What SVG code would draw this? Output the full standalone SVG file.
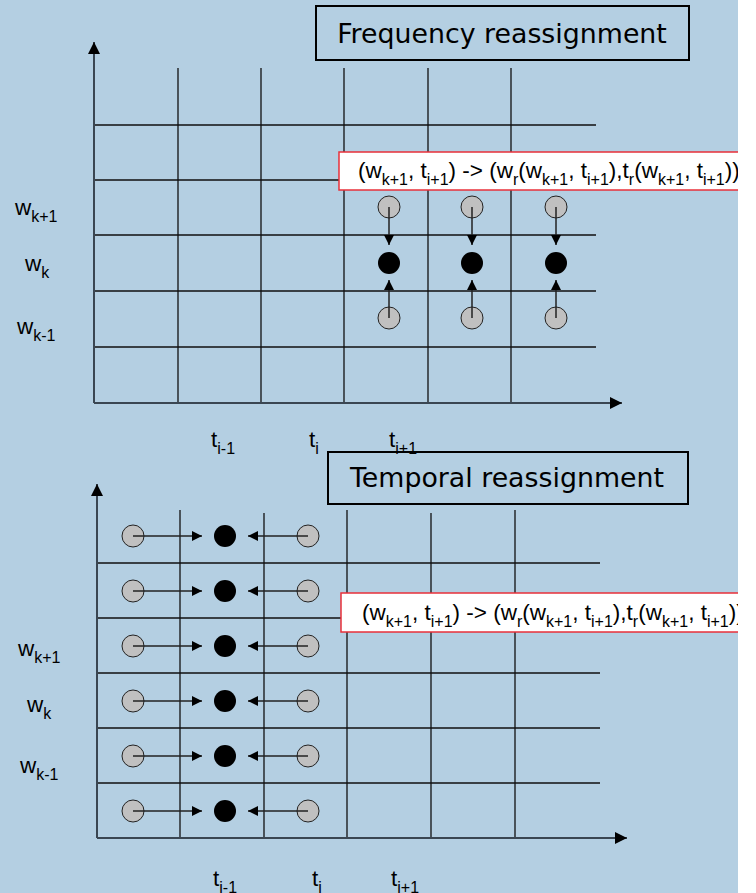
<svg xmlns="http://www.w3.org/2000/svg" width="756" height="893" viewBox="0 0 756 893">
<defs>
<style>
.bg{fill:#b4cfe2}
.ax{stroke:#3a4652;stroke-width:2;fill:none}
.gr{stroke:#111;stroke-width:1.3;fill:none}
.ar{stroke:#222;stroke-width:1.5;fill:none}
.gc{fill:#c0c0c0;stroke:#222;stroke-width:1}
.bc{fill:#000}
.lbl{font-family:"Liberation Sans",Arial,sans-serif;font-size:22.5px;fill:#000}
.ttl{font-family:"DejaVu Sans",Verdana,sans-serif;font-size:26.8px;fill:#000}
.tbox{fill:none;stroke:#000;stroke-width:2}
.rbox{fill:#fff;stroke:#e8303a;stroke-width:1.5}
.sub{font-size:16px}
</style>
<marker id="ah" viewBox="0 0 10 10" refX="10" refY="5" markerWidth="10" markerHeight="10" markerUnits="userSpaceOnUse" orient="auto"><path d="M0,0 L10,5 L0,10 z" fill="#000"/></marker>
<marker id="axh" viewBox="0 0 12 12" refX="12" refY="6" markerWidth="12" markerHeight="12" markerUnits="userSpaceOnUse" orient="auto"><path d="M0,0 L12,6 L0,12 z" fill="#000"/></marker>
</defs>
<rect class="bg" x="0" y="0" width="738" height="893"/>

<!-- Top chart -->
<g id="top-grid">
<path class="gr" d="M178,68V403M261,68V403M344,68V403M428,68V403M511,68V403"/>
<path class="gr" d="M94,125H596M94,180H596M94,235H596M94,291H596M94,347H596"/>
<path class="ax" d="M94,403V42" marker-end="url(#axh)"/>
<path class="ax" d="M94,403H622" marker-end="url(#axh)"/>
</g>

<g id="top-nodes">
<circle class="gc" cx="389" cy="207" r="11"/><circle class="gc" cx="472" cy="207" r="11"/><circle class="gc" cx="556" cy="207" r="11"/>
<circle class="bc" cx="389" cy="263" r="11"/><circle class="bc" cx="472" cy="263" r="11"/><circle class="bc" cx="556" cy="263" r="11"/>
<circle class="gc" cx="389" cy="318" r="11"/><circle class="gc" cx="472" cy="318" r="11"/><circle class="gc" cx="556" cy="318" r="11"/>
</g>
<g id="top-connectors">
<path class="ar" d="M389,207V245" marker-end="url(#ah)"/>
<path class="ar" d="M472,207V245" marker-end="url(#ah)"/>
<path class="ar" d="M556,207V245" marker-end="url(#ah)"/>
<path class="ar" d="M389,318V280" marker-end="url(#ah)"/>
<path class="ar" d="M472,318V280" marker-end="url(#ah)"/>
<path class="ar" d="M556,318V280" marker-end="url(#ah)"/>
</g>

<g id="top-title">
<rect class="tbox" x="316" y="6" width="373" height="54"/>
<text class="ttl" x="502" y="43" text-anchor="middle">Frequency reassignment</text>
</g>

<g id="top-label">
<rect class="rbox" x="339" y="152" width="420" height="38"/>
<text class="lbl" x="358" y="178">(w<tspan class="sub" dy="7">k+1</tspan><tspan dy="-7">, t</tspan><tspan class="sub" dy="7">i+1</tspan><tspan dy="-7">) -&gt; (w</tspan><tspan class="sub" dy="7">r</tspan><tspan dy="-7">(w</tspan><tspan class="sub" dy="7">k+1</tspan><tspan dy="-7">, t</tspan><tspan class="sub" dy="7">i+1</tspan><tspan dy="-7">),t</tspan><tspan class="sub" dy="7">r</tspan><tspan dy="-7">(w</tspan><tspan class="sub" dy="7">k+1</tspan><tspan dy="-7">, t</tspan><tspan class="sub" dy="7">i+1</tspan><tspan dy="-7">))</tspan></text>
</g>

<g id="top-axis-labels">
<text class="lbl" x="15" y="215">w<tspan class="sub" dy="7">k+1</tspan></text>
<text class="lbl" x="25" y="271">w<tspan class="sub" dy="7">k</tspan></text>
<text class="lbl" x="17" y="334">w<tspan class="sub" dy="7">k-1</tspan></text>
<text class="lbl" x="211" y="447">t<tspan class="sub" dy="7">i-1</tspan></text>
<text class="lbl" x="309" y="447">t<tspan class="sub" dy="7">i</tspan></text>
<text class="lbl" x="389" y="447">t<tspan class="sub" dy="7">i+1</tspan></text>
</g>

<!-- Bottom chart -->
<g id="bottom-grid">
<path class="gr" d="M180,510V838M264,513V838M347,510V838M431,513V838M515,510V838"/>
<path class="gr" d="M97,563H600M97,618H600M97,673H600M97,728H600M97,783H600"/>
<path class="ax" d="M97,838V484" marker-end="url(#axh)"/>
<path class="ax" d="M97,838H627" marker-end="url(#axh)"/>
</g>

<g id="bottom-nodes">
<circle class="gc" cx="133" cy="536" r="11"/><circle class="bc" cx="225" cy="536" r="11"/><circle class="gc" cx="308" cy="536" r="11"/>
<circle class="gc" cx="133" cy="591" r="11"/><circle class="bc" cx="225" cy="591" r="11"/><circle class="gc" cx="308" cy="591" r="11"/>
<circle class="gc" cx="133" cy="646" r="11"/><circle class="bc" cx="225" cy="646" r="11"/><circle class="gc" cx="308" cy="646" r="11"/>
<circle class="gc" cx="133" cy="701" r="11"/><circle class="bc" cx="225" cy="701" r="11"/><circle class="gc" cx="308" cy="701" r="11"/>
<circle class="gc" cx="133" cy="756" r="11"/><circle class="bc" cx="225" cy="756" r="11"/><circle class="gc" cx="308" cy="756" r="11"/>
<circle class="gc" cx="133" cy="811" r="11"/><circle class="bc" cx="225" cy="811" r="11"/><circle class="gc" cx="308" cy="811" r="11"/>
</g>
<g id="bottom-connectors">
<path class="ar" d="M133,536H202" marker-end="url(#ah)"/><path class="ar" d="M308,536H248" marker-end="url(#ah)"/>
<path class="ar" d="M133,591H202" marker-end="url(#ah)"/><path class="ar" d="M308,591H248" marker-end="url(#ah)"/>
<path class="ar" d="M133,646H202" marker-end="url(#ah)"/><path class="ar" d="M308,646H248" marker-end="url(#ah)"/>
<path class="ar" d="M133,701H202" marker-end="url(#ah)"/><path class="ar" d="M308,701H248" marker-end="url(#ah)"/>
<path class="ar" d="M133,756H202" marker-end="url(#ah)"/><path class="ar" d="M308,756H248" marker-end="url(#ah)"/>
<path class="ar" d="M133,811H202" marker-end="url(#ah)"/><path class="ar" d="M308,811H248" marker-end="url(#ah)"/>
</g>

<g id="bottom-title">
<rect class="tbox" x="328" y="452" width="360" height="52"/>
<text class="ttl" x="507" y="487" text-anchor="middle">Temporal reassignment</text>
</g>

<g id="bottom-label">
<rect class="rbox" x="341" y="593" width="420" height="39"/>
<text class="lbl" x="362" y="620">(w<tspan class="sub" dy="7">k+1</tspan><tspan dy="-7">, t</tspan><tspan class="sub" dy="7">i+1</tspan><tspan dy="-7">) -&gt; (w</tspan><tspan class="sub" dy="7">r</tspan><tspan dy="-7">(w</tspan><tspan class="sub" dy="7">k+1</tspan><tspan dy="-7">, t</tspan><tspan class="sub" dy="7">i+1</tspan><tspan dy="-7">),t</tspan><tspan class="sub" dy="7">r</tspan><tspan dy="-7">(w</tspan><tspan class="sub" dy="7">k+1</tspan><tspan dy="-7">, t</tspan><tspan class="sub" dy="7">i+1</tspan><tspan dy="-7">))</tspan></text>
</g>

<g id="bottom-axis-labels">
<text class="lbl" x="18" y="656">w<tspan class="sub" dy="7">k+1</tspan></text>
<text class="lbl" x="27" y="712">w<tspan class="sub" dy="7">k</tspan></text>
<text class="lbl" x="20" y="773">w<tspan class="sub" dy="7">k-1</tspan></text>
<text class="lbl" x="213" y="886">t<tspan class="sub" dy="7">i-1</tspan></text>
<text class="lbl" x="312" y="886">t<tspan class="sub" dy="7">i</tspan></text>
<text class="lbl" x="391" y="886">t<tspan class="sub" dy="7">i+1</tspan></text>
</g>

<rect x="738" y="0" width="18" height="893" fill="#fff"/>
</svg>
